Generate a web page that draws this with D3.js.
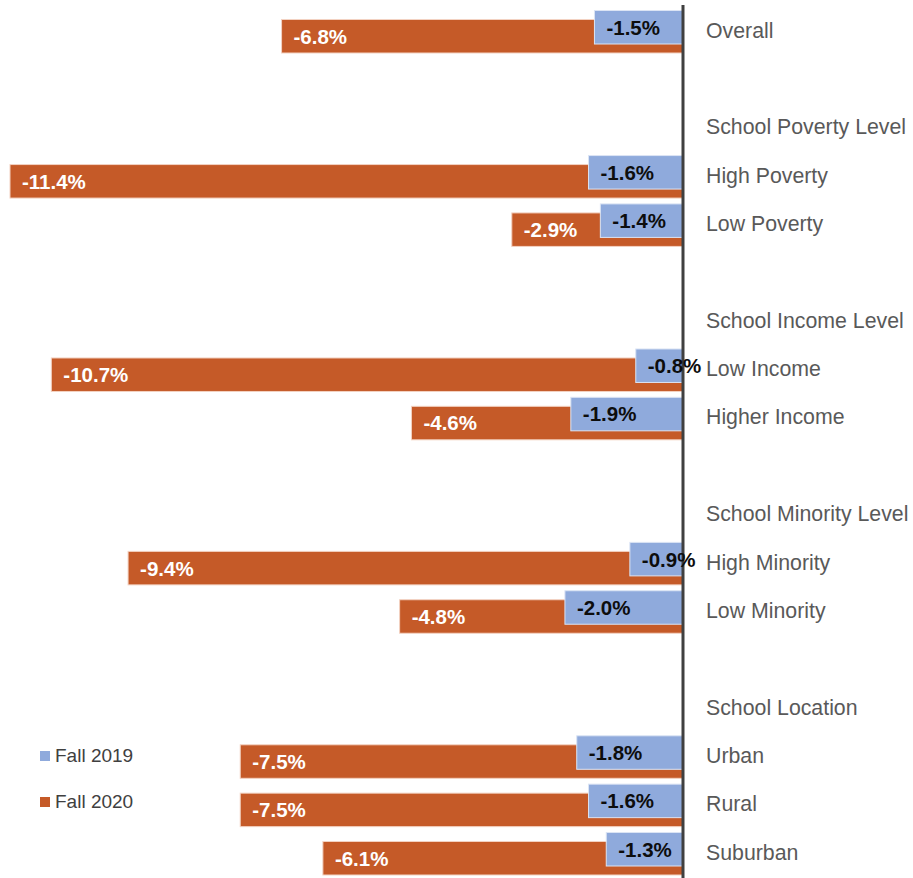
<!DOCTYPE html>
<html>
<head>
<meta charset="utf-8">
<script src="https://cdn.jsdelivr.net/npm/d3@7"></script>
<style>
  html, body { margin: 0; padding: 0; background: #fff; }
  svg { display: block; font-family: "Liberation Sans", Arial, sans-serif; }
</style>
</head>
<body>
<svg id="chart" width="913" height="878"></svg>
<script>
// Row labels top to bottom; "" marks a spacer row
const rows = [
  "Overall", "",
  "School Poverty Level", "High Poverty", "Low Poverty", "",
  "School Income Level", "Low Income", "Higher Income", "",
  "School Minority Level", "High Minority", "Low Minority", "",
  "School Location", "Urban", "Rural", "Suburban"
]

// Categories that carry bars
const categories = ["Overall", "High Poverty", "Low Poverty", "Low Income", "Higher Income",
  "High Minority", "Low Minority", "Urban", "Rural", "Suburban"]
const fall2019 = [-1.5, -1.6, -1.4, -0.8, -1.9, -0.9, -2.0, -1.8, -1.6, -1.3]
const fall2020 = [-6.8, -11.4, -2.9, -10.7, -4.6, -9.4, -4.8, -7.5, -7.5, -6.1]

const seriesNames = ["Fall 2019", "Fall 2020"]
const COLORS = { "Fall 2019": "#8faadc", "Fall 2020": "#c55a28" }

const svg = d3.select("#chart")
const axisX = 683

const x = d3.scaleLinear()
  .domain([d3.min(fall2020), 0])
  .range([10, axisX])

const y = d3.scaleLinear()
  .domain([0, rows.length - 1])
  .range([30, 852])

const barH = 33.5
const data = categories.map((c, i) => ({
  cat: c,
  yc: y(rows.indexOf(c)),
  v19: fall2019[i],
  v20: fall2020[i]
}))

// Fall 2020 bars (behind)
svg.append("g")
  .selectAll("rect")
  .data(data)
  .enter().append("rect")
  .attr("x", d => x(d.v20))
  .attr("y", d => d.yc - 10.5)
  .attr("width", d => x(0) - x(d.v20))
  .attr("height", barH)
  .attr("fill", COLORS["Fall 2020"])
  .attr("stroke", "#f3d2c2")
  .attr("stroke-width", 1)

// Fall 2019 bars (front)
svg.append("g")
  .selectAll("rect")
  .data(data)
  .enter().append("rect")
  .attr("x", d => x(d.v19))
  .attr("y", d => d.yc - 19.5)
  .attr("width", d => x(0) - x(d.v19))
  .attr("height", barH)
  .attr("fill", COLORS["Fall 2019"])
  .attr("stroke", "#dbe4f4")
  .attr("stroke-width", 1)

// Vertical axis line
svg.append("line")
  .attr("x1", axisX).attr("x2", axisX)
  .attr("y1", 5).attr("y2", 878)
  .attr("stroke", "#404040")
  .attr("stroke-width", 3)

// Value labels
svg.append("g")
  .selectAll("text")
  .data(data)
  .enter().append("text")
  .attr("x", d => x(d.v20) + 12)
  .attr("y", d => d.yc - 10.5 + barH / 2)
  .attr("dy", "0.36em")
  .attr("font-size", 20.5)
  .attr("font-weight", "bold")
  .attr("fill", "#fff")
  .text(d => d.v20.toFixed(1) + "%")

svg.append("g")
  .selectAll("text")
  .data(data)
  .enter().append("text")
  .attr("x", d => x(d.v19) + 12)
  .attr("y", d => d.yc - 19.5 + barH / 2)
  .attr("dy", "0.36em")
  .attr("font-size", 20.5)
  .attr("font-weight", "bold")
  .attr("fill", "#0d0d0d")
  .text(d => d.v19.toFixed(1) + "%")

// Category labels
svg.append("g")
  .selectAll("text")
  .data(rows.map((r, i) => ({ r, i })).filter(d => d.r !== ""))
  .enter().append("text")
  .attr("x", axisX + 23)
  .attr("y", d => y(d.i))
  .attr("dy", "0.36em")
  .attr("font-size", 21.3)
  .attr("fill", "#595959")
  .text(d => d.r)

// Legend
const legend = svg.append("g")
  .selectAll("g")
  .data(seriesNames)
  .enter().append("g")
  .attr("transform", (d, i) => `translate(40, ${755 + i * 46})`)

legend.append("rect")
  .attr("x", 0).attr("y", -4)
  .attr("width", 10).attr("height", 10)
  .attr("fill", d => COLORS[d])

legend.append("text")
  .attr("x", 15)
  .attr("y", 0)
  .attr("dy", "0.36em")
  .attr("font-size", 19)
  .attr("fill", "#404040")
  .text(d => d)
</script>
</body>
</html>
